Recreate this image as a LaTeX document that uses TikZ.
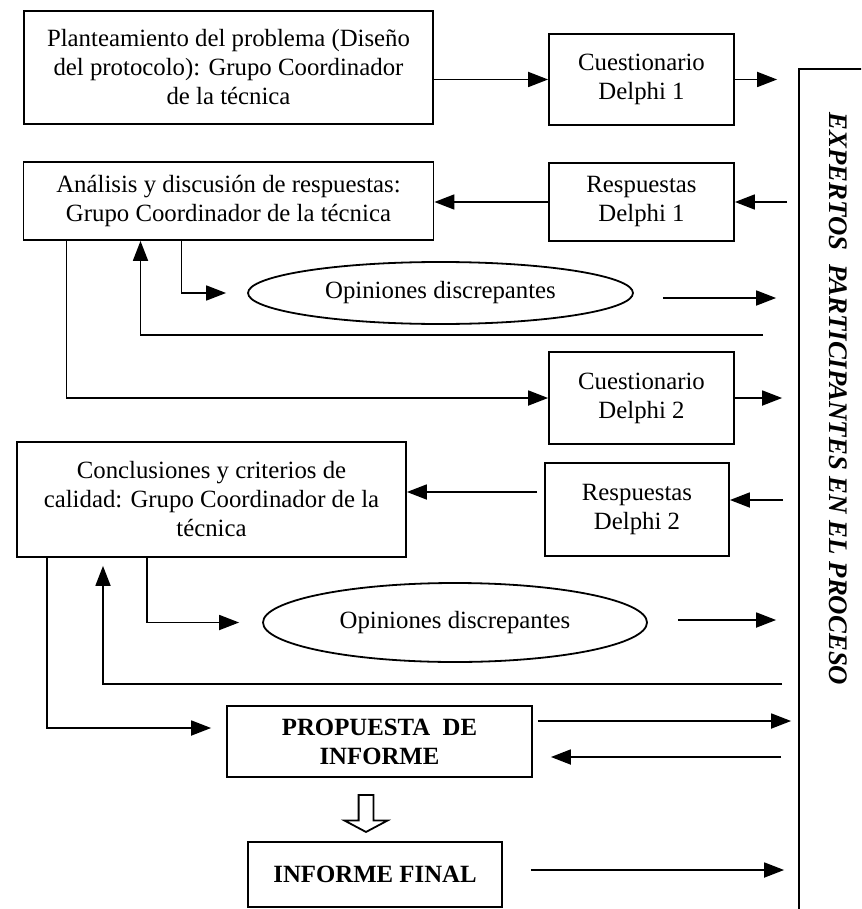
\documentclass[tikz,border=0pt]{standalone}
\usepackage{fontspec}
\setmainfont{Liberation Serif}
\usetikzlibrary{arrows.meta, positioning, shapes.geometric, shapes.arrows}

\begin{document}
\begin{tikzpicture}[
        x = 0.5pt, y = -0.5pt, on grid, line width = 0.9pt,
        >= {Triangle[length = 10pt, width = 7.5pt]},
        box/.style = {draw, align = center, inner sep = 2pt, font = \fontsize{12.4}{14.5}\selectfont},
        boldbox/.style = {box, font = \fontsize{12.4}{14.5}\selectfont\bfseries},
        oval/.style = {draw, ellipse, inner sep = 0pt, font = \fontsize{12.4}{14.5}\selectfont}
    ]
    \useasboundingbox (0, 0) rectangle (861, 909);
    \clip (0, 0) rectangle (861, 909);

      \node[box, minimum width = 204.5pt, minimum height = 56.5pt] (plant) at (228.5, 67.5)
        {Planteamiento del problema (Diseño\\del protocolo): Grupo Coordinador\\de la técnica};
      \node[box, minimum width = 92.5pt, minimum height = 45.5pt] (cq1) at (641.5, 79.5) {Cuestionario\\Delphi 1};
      \node[box, minimum width = 205pt, minimum height = 39pt] (anal) [below = 66.75pt of plant]
        {Análisis y discusión de respuestas:\\Grupo Coordinador de la técnica};
      \node[box, minimum width = 92.5pt, minimum height = 39pt] (rs1) [below = 61.25pt of cq1] {Respuestas\\Delphi 1};
      \node[oval, minimum width = 192.5pt, minimum height = 31pt] (op1) at (440.5, 293) {Opiniones discrepantes};
      \node[box, minimum width = 92.5pt, minimum height = 46pt] (cq2) [below = 98pt of rs1] {Cuestionario\\Delphi 2};
      \node[box, minimum width = 194.5pt, minimum height = 57.5pt] (concl) at (211.5, 499.5)
        {Conclusiones y criterios de\\calidad: Grupo Coordinador de la\\técnica};
      \node[box, minimum width = 92pt, minimum height = 46.5pt] (rs2) at (637, 509.5) {Respuestas\\Delphi 2};
      \node[oval, minimum width = 192pt, minimum height = 39.5pt] (op2) at (455, 622.5) {Opiniones discrepantes};
      \node[boldbox, minimum width = 152.5pt, minimum height = 35.5pt] (prop) at (379.5, 741.5) {PROPUESTA~~DE\\INFORME};
      \node[single arrow, draw, shape border rotate = 270, inner sep = 3.25pt, minimum height = 18.5pt,
            single arrow head extend = 7pt, single arrow tip angle = 124] (dn) at (366, 811.5) {};
      \node[boldbox, minimum width = 127pt, minimum height = 32.5pt] (fin) at (375, 874.5) {INFORME FINAL};
      \node[draw, minimum width = 80pt, minimum height = 500pt] (exp) at (879, 569) {};
      \node[rotate = -90, font = \fontsize{13.4}{15}\selectfont\bfseries\itshape] (explab) at (838, 399)
        {EXPERTOS~~PARTICIPANTES EN EL PROCESO};

      % first round
      \draw[->] (plant.east |- cq1.west) -- (cq1.west);
      \draw[->, shorten >= 10.5pt] (cq1.east) -- (cq1.east -| exp.west);
      \draw[->, shorten <= 5.5pt] (rs1.east -| exp.west) -- (rs1.east);
      \draw[->] (rs1.west) -- (rs1.west -| anal.east);
      \draw[->, shorten >= 10.5pt] ([xshift = -23.5pt]anal.south) |- (op1.west);
      \draw[->, shorten <= 14.5pt, shorten >= 11pt] ([yshift = -2.5pt]op1.east) -- ([yshift = -2.5pt]op1.east -| exp.west);
      \coordinate (fb1) at (763, 335);
      \draw[->] (fb1) -| ([xshift = -44pt]anal.south);
      \draw[->] ([xshift = -81pt]anal.south) |- (cq2.west);

      % second round
      \draw[->, shorten >= 8pt] (cq2.east) -- (cq2.east -| exp.west);
      \draw[->, shorten <= 7.5pt] ([yshift = 4.75pt]rs2.east -| exp.west) -- ([yshift = 4.75pt]rs2.east);
      \draw[->, shorten <= 3.5pt] ([yshift = 8.75pt]rs2.west) -- ([yshift = 8.75pt]rs2.west -| concl.east);
      \draw[->, shorten >= 11.5pt] ([xshift = -32.25pt]concl.south) |- (op2.west);
      \draw[->, shorten <= 15pt, shorten >= 11pt] ([yshift = 1.25pt]op2.east) -- ([yshift = 1.25pt]op2.east -| exp.west);
      \coordinate (fb2) at (782, 684);
      \draw[->, shorten >= 4pt] (fb2) -| ([xshift = -54.25pt]concl.south);

      % report
      \draw[->, shorten >= 7.5pt] ([xshift = -82.25pt]concl.south) |- ([yshift = 6.75pt]prop.west);
      \draw[->, shorten <= 2.5pt, shorten >= 3.5pt] ([yshift = 10.25pt]prop.east) -- ([yshift = 10.25pt]prop.east -| exp.west);
      \draw[->, shorten <= 8.5pt, shorten >= 9pt] ([yshift = -7.75pt]prop.east -| exp.west) -- ([yshift = -7.75pt]prop.east);
      \draw[->, shorten <= 14pt, shorten >= 7pt] ([yshift = 2.25pt]fin.east) -- ([yshift = 2.25pt]fin.east -| exp.west);
    \end{tikzpicture}
\end{document}
